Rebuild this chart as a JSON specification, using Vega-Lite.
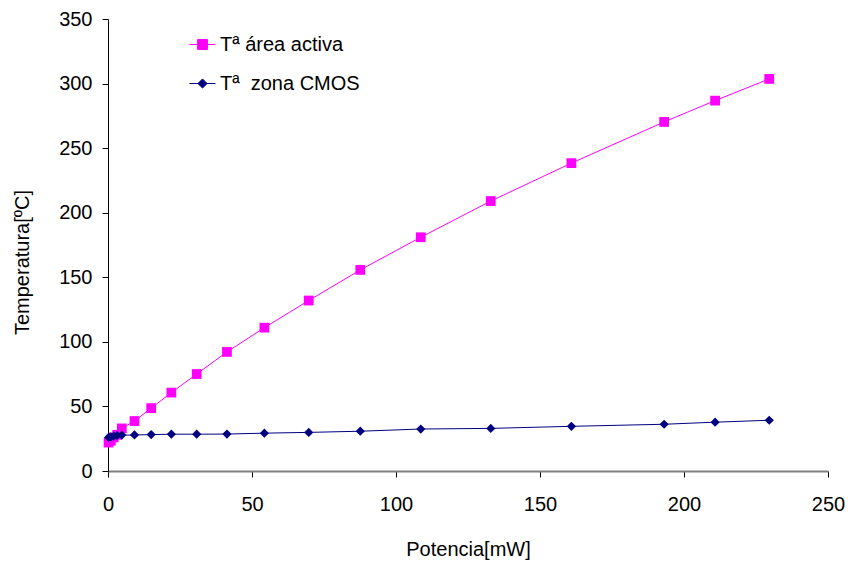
{
  "$schema": "https://vega.github.io/schema/vega-lite/v6.json",
  "width": 720,
  "height": 452,
  "autosize": "none",
  "padding": {"left": 108, "top": 19, "right": 20, "bottom": 90},
  "background": "white",
  "config": {"view": {"stroke": null}, "font": "Liberation Sans"},
  "data": {
    "values": [
      {"potencia": 0.2, "serie": "Tª área activa", "temp": 22},
      {"potencia": 1.0, "serie": "Tª área activa", "temp": 23.5},
      {"potencia": 2.0, "serie": "Tª área activa", "temp": 26},
      {"potencia": 3.2, "serie": "Tª área activa", "temp": 28},
      {"potencia": 4.8, "serie": "Tª área activa", "temp": 33},
      {"potencia": 9.2, "serie": "Tª área activa", "temp": 38.7},
      {"potencia": 15, "serie": "Tª área activa", "temp": 48.7},
      {"potencia": 22, "serie": "Tª área activa", "temp": 60.7},
      {"potencia": 30.8, "serie": "Tª área activa", "temp": 75.1},
      {"potencia": 41.3, "serie": "Tª área activa", "temp": 92.2},
      {"potencia": 54.3, "serie": "Tª área activa", "temp": 111},
      {"potencia": 69.7, "serie": "Tª área activa", "temp": 132},
      {"potencia": 87.6, "serie": "Tª área activa", "temp": 155.7},
      {"potencia": 108.6, "serie": "Tª área activa", "temp": 181},
      {"potencia": 132.9, "serie": "Tª área activa", "temp": 209},
      {"potencia": 160.9, "serie": "Tª área activa", "temp": 238.4},
      {"potencia": 193.1, "serie": "Tª área activa", "temp": 270.3},
      {"potencia": 210.8, "serie": "Tª área activa", "temp": 286.8},
      {"potencia": 229.6, "serie": "Tª área activa", "temp": 303.6},
      {"potencia": 0.2, "serie": "Tª  zona CMOS", "temp": 26},
      {"potencia": 1.0, "serie": "Tª  zona CMOS", "temp": 26.5},
      {"potencia": 2.0, "serie": "Tª  zona CMOS", "temp": 27},
      {"potencia": 3.2, "serie": "Tª  zona CMOS", "temp": 27.5},
      {"potencia": 4.8, "serie": "Tª  zona CMOS", "temp": 27.8},
      {"potencia": 9.2, "serie": "Tª  zona CMOS", "temp": 27.9},
      {"potencia": 15, "serie": "Tª  zona CMOS", "temp": 28.2},
      {"potencia": 22, "serie": "Tª  zona CMOS", "temp": 28.5},
      {"potencia": 30.8, "serie": "Tª  zona CMOS", "temp": 28.5},
      {"potencia": 41.3, "serie": "Tª  zona CMOS", "temp": 28.6},
      {"potencia": 54.3, "serie": "Tª  zona CMOS", "temp": 29.3},
      {"potencia": 69.7, "serie": "Tª  zona CMOS", "temp": 29.9},
      {"potencia": 87.6, "serie": "Tª  zona CMOS", "temp": 30.8},
      {"potencia": 108.6, "serie": "Tª  zona CMOS", "temp": 32.5},
      {"potencia": 132.9, "serie": "Tª  zona CMOS", "temp": 33},
      {"potencia": 160.9, "serie": "Tª  zona CMOS", "temp": 34.6},
      {"potencia": 193.1, "serie": "Tª  zona CMOS", "temp": 36.2},
      {"potencia": 210.8, "serie": "Tª  zona CMOS", "temp": 37.8},
      {"potencia": 229.6, "serie": "Tª  zona CMOS", "temp": 39.3}
    ]
  },
  "encoding": {
    "x": {
      "field": "potencia",
      "type": "quantitative",
      "scale": {"domain": [0, 250], "nice": false, "zero": false},
      "axis": {
        "title": "Potencia[mW]",
        "values": [0, 50, 100, 150, 200, 250],
        "grid": false,
        "domainColor": "#808080",
        "domainWidth": 2,
        "tickColor": "black",
        "tickSize": 6,
        "labelFontSize": 20,
        "labelColor": "black",
        "labelPadding": 17,
        "labelFlush": false,
        "titleFontSize": 20,
        "titleFontWeight": "normal",
        "titleColor": "black",
        "titleBaseline": "middle",
        "titleY": 78
      }
    },
    "y": {
      "field": "temp",
      "type": "quantitative",
      "scale": {"domain": [0, 350], "nice": false},
      "axis": {
        "title": "Temperatura[ºC]",
        "values": [0, 50, 100, 150, 200, 250, 300, 350],
        "grid": false,
        "domainColor": "black",
        "domainWidth": 1,
        "tickColor": "black",
        "tickSize": 6,
        "labelFontSize": 20,
        "labelColor": "black",
        "labelPadding": 10,
        "labelFlush": false,
        "titleFontSize": 20,
        "titleFontWeight": "normal",
        "titleColor": "black",
        "titleAngle": -90,
        "titleBaseline": "middle",
        "titleX": -86,
        "titleY": 243
      }
    },
    "color": {
      "field": "serie",
      "type": "nominal",
      "scale": {"domain": ["Tª área activa", "Tª  zona CMOS"], "range": ["#FF00FF", "#000080"]},
      "legend": {
        "title": null,
        "orient": "none",
        "legendX": 81,
        "legendY": 12,
        "padding": 0,
        "rowPadding": 15,
        "symbolSize": 676,
        "labelOffset": 4,
        "labelFontSize": 20,
        "labelColor": "black",
        "labelFont": "Liberation Sans",
        "labelExpr": "datum.value === 'Tª  zona CMOS' ? 'Tª\u00a0 zona CMOS' : datum.label",
        "encode": {
          "symbols": {
            "update": {
              "shape": {"signal": "datum.value === 'Tª área activa' ? 'M-1,0H1M-0.38,-0.38H0.38V0.38H-0.38Z' : 'M-1,0H1M0,-0.35L0.35,0L0,0.35L-0.35,0Z'"},
              "fill": {"signal": "datum.value === 'Tª área activa' ? '#FF00FF' : '#000080'"},
              "stroke": {"signal": "datum.value === 'Tª área activa' ? '#FF00FF' : '#000080'"},
              "strokeWidth": {"value": 1},
              "size": {"value": 676},
              "opacity": {"value": 1}
            }
          }
        }
      }
    }
  },
  "layer": [
    {
      "mark": {"type": "line", "strokeWidth": 1}
    },
    {
      "transform": [{"filter": "datum.serie === 'Tª área activa'"}],
      "mark": {"type": "point", "filled": true, "opacity": 1, "shape": "square", "size": 95}
    },
    {
      "transform": [{"filter": "datum.serie === 'Tª  zona CMOS'"}],
      "mark": {"type": "point", "filled": true, "opacity": 1, "shape": "diamond", "size": 85}
    }
  ]
}
